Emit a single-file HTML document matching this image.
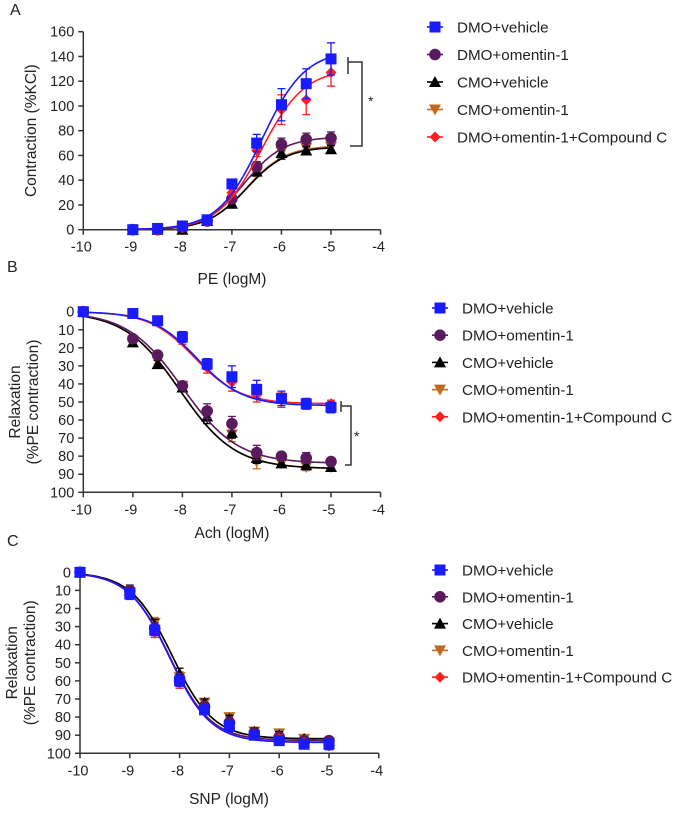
<!DOCTYPE html>
<html><head><meta charset="utf-8">
<style>
body{margin:0;background:#fff;}
svg{display:block;font-family:"Liberation Sans",Arial,sans-serif;}
</style></head>
<body>
<svg id="fig" width="675" height="813" viewBox="0 0 675 813"></svg>
<script>
// ---------- data ----------
const seriesNames = ["DMO+vehicle","DMO+omentin-1","CMO+vehicle","CMO+omentin-1","DMO+omentin-1+Compound C"];
const seriesColors = ["#1a1aff","#5a1a5e","#000000","#c06a20","#ff2020"];
const seriesMarkers = ["square","circle","triangle","itriangle","diamond"];
const xTicks = [-10,-9,-8,-7,-6,-5,-4];

// Panel A (PE)
const doseA = [-9,-8.5,-8,-7.5,-7,-6.5,-6,-5.5,-5];
const aDMOveh = [0,1,3,8,37,70,101,118,138];
const aDMOom = [0,0,2,7,25,51,69,73,74];
const aCMOveh = [0,0,0,7,21,47,62,64,65];
const aCMOom = [0,0,1,7,22,46,63,66,67];
const aCompC = [0,0,2,7,30,64,97,105,127];
const aErr = [[1,1,2,2,3,7,13,12,13],[1,1,1,1,3,4,5,5,5],[1,1,1,1,2,3,5,3,3],[1,1,1,1,2,3,4,3,3],[1,1,1,1,3,5,12,12,11]];
// fitted curve params [bottom, top, logEC50, hill]
const aFit = [[0,145,-6.4,1.0],[0,75,-6.75,1.1],[0,67,-6.7,1.1],[0,68,-6.7,1.1],[0,130,-6.4,1.0]];
const yTicksA = [0,20,40,60,80,100,120,140,160];

// Panel B (Ach)
const doseB = [-10,-9,-8.5,-8,-7.5,-7,-6.5,-6,-5.5,-5];
const bDMOveh = [0,1,5,14,29,36,43,48,51,53];
const bDMOom = [0,15,24,41,55,62,78,80,81,83];
const bCMOveh = [0,17,29,42,58,67,81,84,85,86];
const bCMOom = [0,16,27,41,57,68,83,84,86,86];
const bCompC = [0,1,5,15,31,39,46,49,51,51];
const bErr = [[1,1,1,3,3,6,5,4,3,3],[1,1,2,2,4,4,4,2,3,2],[1,2,2,2,4,3,3,2,2,2],[1,2,2,2,3,4,4,2,2,2],[1,1,1,3,3,5,4,4,2,2]];
const bFit = [[0,52,-7.7,0.95],[0,84,-8.0,0.78],[0,87,-8.05,0.78],[0,87,-8.05,0.78],[0,51,-7.75,0.95]];
const yTicksB = [0,10,20,30,40,50,60,70,80,90,100];

// Panel C (SNP)
const doseC = [-10,-9,-8.5,-8,-7.5,-7,-6.5,-6,-5.5,-5];
const cDMOveh = [0,12,32,60,76,85,90,93,95,95];
const cDMOom = [0,10,31,60,74,83,89,91,93,93];
const cCMOveh = [0,10,29,56,72,81,88,90,92,93];
const cCMOom = [0,11,28,58,72,80,88,89,92,94];
const cCompC = [0,12,33,61,76,85,90,92,94,96];
const cErr = [[1,3,3,3,2,3,2,2,2,3],[1,3,3,4,2,3,2,2,1,2],[1,2,3,3,2,2,2,2,1,1],[1,2,3,3,2,2,2,2,1,2],[1,2,3,3,2,2,2,2,1,2]];
const cFit = [[0,94,-8.2,1.05],[0,93,-8.2,1.05],[0,92,-8.15,1.05],[0,92,-8.15,1.05],[0,94,-8.2,1.05]];

const NS="http://www.w3.org/2000/svg";
const svg=document.getElementById('fig');
function el(tag,attrs,parent){const e=document.createElementNS(NS,tag);for(const k in attrs)e.setAttribute(k,attrs[k]);(parent||svg).appendChild(e);return e;}

function marker(g,type,cx,cy,color){
  let m;
  if(type==="square") m=el('rect',{x:cx-5.5,y:cy-5.5,width:11,height:11,fill:color},g);
  else if(type==="circle") m=el('circle',{cx:cx,cy:cy,r:5.8,fill:color},g);
  else if(type==="triangle") m=el('polygon',{points:`${cx},${cy-6} ${cx+6},${cy+5} ${cx-6},${cy+5}`,fill:color},g);
  else if(type==="itriangle") m=el('polygon',{points:`${cx},${cy+6} ${cx+6},${cy-5} ${cx-6},${cy-5}`,fill:color},g);
  else m=el('polygon',{points:`${cx},${cy-5.5} ${cx+5.5},${cy} ${cx},${cy+5.5} ${cx-5.5},${cy}`,fill:color},g);
  return m;
}

function panel(cfg){
  const g=el('g',{});
  
  
  const sx=v=>cfg.x0+(v-(-10))*(cfg.x1-cfg.x0)/5;
  const sy=v=>cfg.y0+(v-cfg.ymin)*(cfg.y1-cfg.y0)/(cfg.ymax-cfg.ymin);
  const yTop=Math.min(sy(cfg.ymin),sy(cfg.ymax)), yBot=Math.max(sy(cfg.ymin),sy(cfg.ymax));
  const axisY=cfg.reversed?sy(cfg.ymax):sy(cfg.ymin);
  const ya=el('line',{x1:sx(-10),y1:yTop,x2:sx(-10),y2:yBot,stroke:'#333','stroke-width':1.5},g);
  
  const xa=el('line',{x1:sx(-10),y1:axisY,x2:sx(-4),y2:axisY,stroke:'#333','stroke-width':1.5},g);
  
  cfg.yTicks.forEach(t=>{
    el('line',{x1:sx(-10)-5,y1:sy(t),x2:sx(-10),y2:sy(t),stroke:'#333','stroke-width':1.5},g);
    const tx=el('text',{x:sx(-10)-9,y:sy(t)+5,'text-anchor':'end','font-size':14.5,fill:'#222'},g);
    tx.textContent=t;
    
  });
  xTicks.forEach(t=>{
    el('line',{x1:sx(t),y1:axisY,x2:sx(t),y2:axisY+5,stroke:'#333','stroke-width':1.5},g);
    const tx=el('text',{x:sx(t)-2,y:axisY+22,'text-anchor':'middle','font-size':14.5,fill:'#222'},g);
    tx.textContent=t;
    
  });
  const xt=el('text',{x:cfg.xtx,y:cfg.xty,'text-anchor':'middle','font-size':15.5,fill:'#222'},g);
  xt.textContent=cfg.xTitle;
  
  cfg.yTitle.forEach((s,i)=>{
    const cx=cfg.ytx[i], cy=(yTop+yBot)/2;
    const t=el('text',{x:cx,y:cy,'text-anchor':'middle','font-size':15.5,fill:'#222',transform:`rotate(-90 ${cx} ${cy})`},g);
    t.textContent=s;
    
  });
  const pl=el('text',{x:cfg.lx,y:cfg.ly,'font-size':16,fill:'#222'},g);
  pl.textContent=cfg.letter;
  
  [3,2,1,4,0].forEach(i=>{
    const sg=el('g',{},g);
    
    
    const c=seriesColors[i], f=cfg.fit[i];
    let d='';
    for(let k=0;k<=120;k++){const x=-10+5*k/120; if(x<cfg.curveStart) continue;
      const v=f[0]+(f[1]-f[0])/(1+Math.pow(10,(f[2]-x)*f[3]));
      d+=(d?'L':'M')+sx(x).toFixed(2)+','+sy(v).toFixed(2);}
    const cu=el('path',{d:d,fill:'none',stroke:c,'stroke-width':1.6},sg);
    
    cfg.data[i].forEach((v,j)=>{
      const x=sx(cfg.dose[j]), e=cfg.err[i][j];
      const y1=sy(v+e), y2=sy(v-e);
      el('line',{x1:x,y1:y1,x2:x,y2:y2,stroke:c,'stroke-width':1.3},sg);
      el('line',{x1:x-4,y1:y1,x2:x+4,y2:y1,stroke:c,'stroke-width':1.3},sg);
      el('line',{x1:x-4,y1:y2,x2:x+4,y2:y2,stroke:c,'stroke-width':1.3},sg);
      const m=marker(sg,seriesMarkers[i],x,sy(v),c);
      
      
    });
  });
  const lg=el('g',{},g);
  
  seriesNames.forEach((n,i)=>{
    const y=cfg.legY+i*cfg.legDy;
    const eg=el('g',{},lg);
    
    el('line',{x1:cfg.legX-8,y1:y,x2:cfg.legX+8,y2:y,stroke:seriesColors[i],'stroke-width':1.6},eg);
    marker(eg,seriesMarkers[i],cfg.legX,y,seriesColors[i]);
    const t=el('text',{x:cfg.legX+22,y:y+5.5,'font-size':15.2,fill:'#222'},eg);
    t.textContent=n;
  });
  if(cfg.bracket){
    const b=cfg.bracket;
    const p=el('path',{d:b.d,fill:'none',stroke:'#333','stroke-width':1.5},g);
    
    const s=el('text',{x:b.sx,y:b.sy,'font-size':14,fill:'#222'},g);
    s.textContent='*';
    
  }
}

panel({name:'panel-a',letter:'A',lx:10,ly:15,x0:83.3,x1:331,y0:229.7,y1:31.7,ymin:0,ymax:160,reversed:false,
  yTicks:yTicksA,dose:doseA,data:[aDMOveh,aDMOom,aCMOveh,aCMOom,aCompC],err:aErr,fit:aFit,curveStart:-9,
  xTitle:'PE (logM)',xtx:232,xty:284,yTitle:['Contraction (%KCl)'],ytx:[36],
  legX:435,legY:27,legDy:27.5,
  bracket:{d:'M348,57 L348,74 M348,62 L362,62 L362,146 L350,146',sx:368,sy:106}});
panel({name:'panel-b',letter:'B',lx:7,ly:272,x0:83.3,x1:331,y0:311.7,y1:492.3,ymin:0,ymax:100,reversed:true,
  yTicks:yTicksB,dose:doseB,data:[bDMOveh,bDMOom,bCMOveh,bCMOom,bCompC],err:bErr,fit:bFit,curveStart:-10,
  xTitle:'Ach (logM)',xtx:232,xty:538,yTitle:['Relaxation','(%PE contraction)'],ytx:[20,38],
  legX:440,legY:308,legDy:27.2,
  bracket:{d:'M341,401 L341,412 M341,406 L351,406 L351,465 L345,465',sx:354,sy:441}});
panel({name:'panel-c',letter:'C',lx:7,ly:546,x0:80,x1:329,y0:572.3,y1:753.3,ymin:0,ymax:100,reversed:true,
  yTicks:yTicksB,dose:doseC,data:[cDMOveh,cDMOom,cCMOveh,cCMOom,cCompC],err:cErr,fit:cFit,curveStart:-10,
  xTitle:'SNP (logM)',xtx:229,xty:804,yTitle:['Relaxation','(%PE contraction)'],ytx:[17,35],
  legX:440,legY:570,legDy:26.8,bracket:null});
</script>
</body></html>
